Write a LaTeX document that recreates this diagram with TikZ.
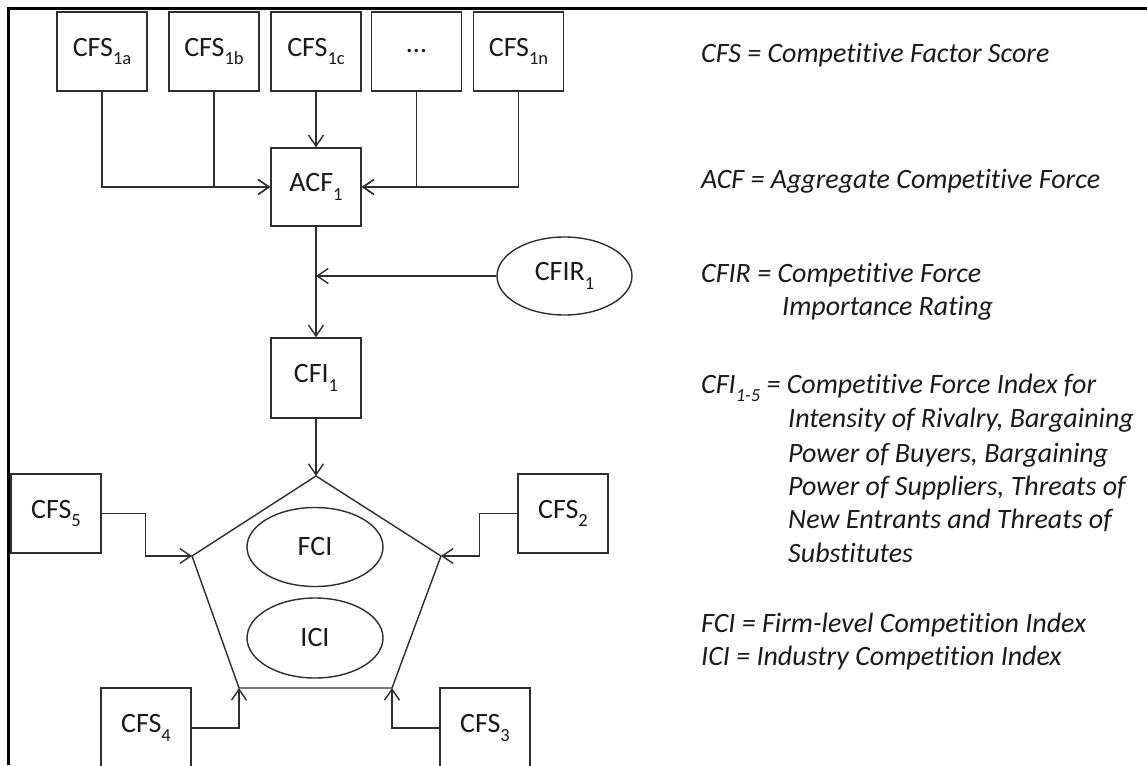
\documentclass[tikz,border=0pt]{standalone}
\usepackage{fontspec}
\setmainfont{Carlito}[Ligatures=NoCommon]
\usetikzlibrary{arrows.meta,shapes.geometric}
\definecolor{linec}{HTML}{2E2E2E}
\definecolor{textc}{HTML}{1A1A1A}
\newcommand{\lsub}[1]{\raisebox{-0.3em}{\fontsize{18.5}{18.5}\selectfont #1}}
\begin{document}
\begin{tikzpicture}[x=1pt,y=-1pt,
  box/.style={draw=linec, line width=1.5pt, minimum width=90pt, minimum height=79pt, inner sep=0pt, font=\fontsize{28}{32}\selectfont, text=textc},
  oval/.style={draw=linec, line width=1.4pt, ellipse, minimum width=136pt, minimum height=79pt, inner sep=0pt, font=\fontsize{28}{32}\selectfont, text=textc},
  arr/.style={draw=linec, line width=1.4pt, -{Straight Barb[length=11pt,width=15pt,line width=1.4pt]}},
  conn/.style={draw=linec, line width=1.4pt},
  legend/.style={anchor=base west, inner sep=0pt, font=\fontsize{28}{32}\selectfont\itshape, text=textc}
]
\useasboundingbox (0,0) rectangle (1147,765);
\clip (0,0) rectangle (1147,765);
\fill[white] (0,0) rectangle (1147,765);
% frame
\draw[black, line width=3pt] (8,765) -- (8,9) -- (1147,9);

% top boxes
\node[box] (b1) at (102,51.5) {CFS\lsub{1a}};
\node[box] (b2) at (214,51.5) {CFS\lsub{1b}};
\node[box] (b3) at (316,51.5) {CFS\lsub{1c}};
\node[box] (b4) at (416.5,51.5) {...};
\node[box] (b5) at (518.5,51.5) {CFS\lsub{1n}};

\node[box, minimum height=78pt] (acf) at (316,187) {ACF\lsub{1}};
\node[box, minimum height=80pt] (cfi) at (316,378) {CFI\lsub{1}};
\node[oval, minimum width=135pt, minimum height=78pt] (cfir) at (564.5,276) {CFIR\lsub{1}};

% pentagon
\coordinate (P1) at (316,476);
\coordinate (P2) at (441,556);
\coordinate (P3) at (392,688);
\coordinate (P4) at (239,688);
\coordinate (P5) at (192,556);
\draw[conn] (P1) -- (P2) -- (P3) -- (P4) -- (P5) -- cycle;
\node[oval] (fci) at (315,547) {FCI};
\node[oval, minimum height=80pt] (ici) at (315,638) {ICI};

\node[box] (c5) at (56,513.5) {CFS\lsub{5}};
\node[box] (c2) at (563,513.5) {CFS\lsub{2}};
\node[box, minimum height=80pt] (c4) at (146,728) {CFS\lsub{4}};
\node[box, minimum height=80pt] (c3) at (485,728) {CFS\lsub{3}};

% connectors
\draw[arr] (b1.south) |- (acf.west);
\draw[arr] (b2.south) |- (acf.west);
\draw[arr] (b3.south) -- (acf.north);
\draw[arr] (b4.south) |- (acf.east);
\draw[arr] (b5.south) |- (acf.east);
\draw[arr] (acf.south) -- (cfi.north);
\draw[arr] (cfir.west) -- (acf.south |- cfir.west);
\draw[arr] (cfi.south) -- (P1);
\draw[arr] (c5.east) -- ++(44,0) |- (P5);
\draw[arr] (c2.west) -- ++(-38,0) |- (P2);
\draw[arr] (c4.east) -| (P4);
\draw[arr] (c3.west) -| (P3);

% legend
\node[legend] (l1) at (701,63) {CFS = Competitive Factor Score};
\node[legend] (l2) at (701,188) {ACF = Aggregate Competitive Force};
\node[legend] (l3) at (701,282) {CFIR = Competitive Force};
\node[legend] (l3b) at (782,315) {Importance Rating};
\node[legend] (l4) at (701,393) {CFI\lsub{1-5} = Competitive Force Index for};
\node[legend] (l4b) at (788,427) {Intensity of Rivalry, Bargaining};
\node[legend] (l4c) at (788,462) {Power of Buyers, Bargaining};
\node[legend] (l4d) at (788,495) {Power of Suppliers, Threats of};
\node[legend] (l4e) at (788,528) {New Entrants and Threats of};
\node[legend] (l4f) at (788,562) {Substitutes};
\node[legend] (l5) at (701,632) {FCI = Firm-level Competition Index};
\node[legend] (l6) at (701,665) {ICI = Industry Competition Index};
\end{tikzpicture}
\end{document}
